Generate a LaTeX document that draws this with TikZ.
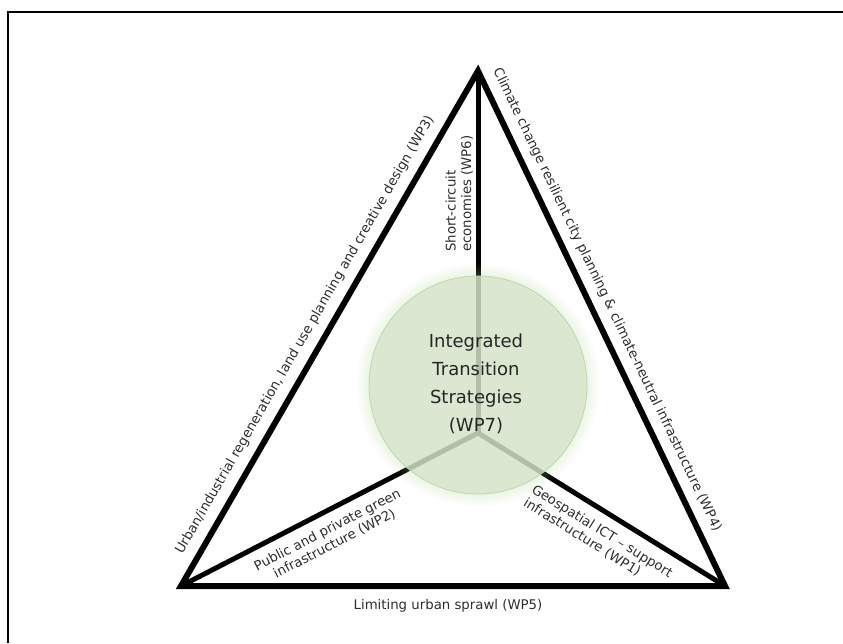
\documentclass[tikz,border=0pt]{standalone}
\usepackage{fontspec}
\setmainfont{DejaVu Sans}
\definecolor{glow}{RGB}{175,210,145}
\definecolor{disc}{RGB}{214,227,204}
\definecolor{discedge}{RGB}{192,214,172}
\definecolor{txt}{RGB}{45,45,45}
\begin{document}
\begin{tikzpicture}[x=1pt,y=1pt,
  frameline/.style={line width=2pt, black},
  tri/.style={line width=6pt, line join=miter, black},
  spoke/.style={line width=5pt, black},
  lbl/.style={inner sep=0pt, text=txt, font=\fontsize{13.3}{15.5}\selectfont},
  core/.style={inner sep=0pt, text=black!85, font=\fontsize{18}{28}\selectfont, align=center}]
\useasboundingbox (0,0) rectangle (843,643);
\draw[frameline] (8,0) -- (8,631) -- (843,631);

\coordinate (A) at (478,572);
\coordinate (BL) at (181,57);
\coordinate (BR) at (725,57);
\coordinate (J) at (478,210);
\coordinate (C) at (478,258);

% spokes
\draw[spoke] (A) -- (J);
\draw[spoke] (J) -- (BL);
\draw[spoke] (J) -- (BR);

% triangle
\draw[tri] (A) -- (BL) -- (BR) -- cycle;

% glow and disc
\foreach \r in {2,4,6,8,10,12}
  \fill[glow, opacity=0.04] (C) circle ({109+\r});
\fill[disc, opacity=0.8] (C) circle (109);
\draw[discedge, line width=0.8pt] (C) circle (109);

\node[core] (wp7) at (476,259) {Integrated\\Transition\\Strategies\\(WP7)};

\node[lbl, rotate=60] (wp3) at (305,308)
  {Urban/industrial regeneration, land use planning and creative design (WP3)};
\node[lbl, rotate=-64.4] (wp4) at (607,343)
  {Climate change resilient city planning \& climate-neutral infrastructure (WP4)};
\node[lbl] (wp5) at (448,37) {Limiting urban sprawl (WP5)};
\node[lbl, rotate=90, align=left, anchor=south west] (wp6) at (473,391)
  {Short-circuit\\economies (WP6)};
\node[lbl, rotate=27.3, align=center] (wp2) at (331,106)
  {Public and private green\\infrastructure (WP2)};
\node[lbl, rotate=-31.8, align=left] (wp1) at (598,105)
  {Geospatial ICT -- support\\infrastructure (WP1)};
\end{tikzpicture}
\end{document}
